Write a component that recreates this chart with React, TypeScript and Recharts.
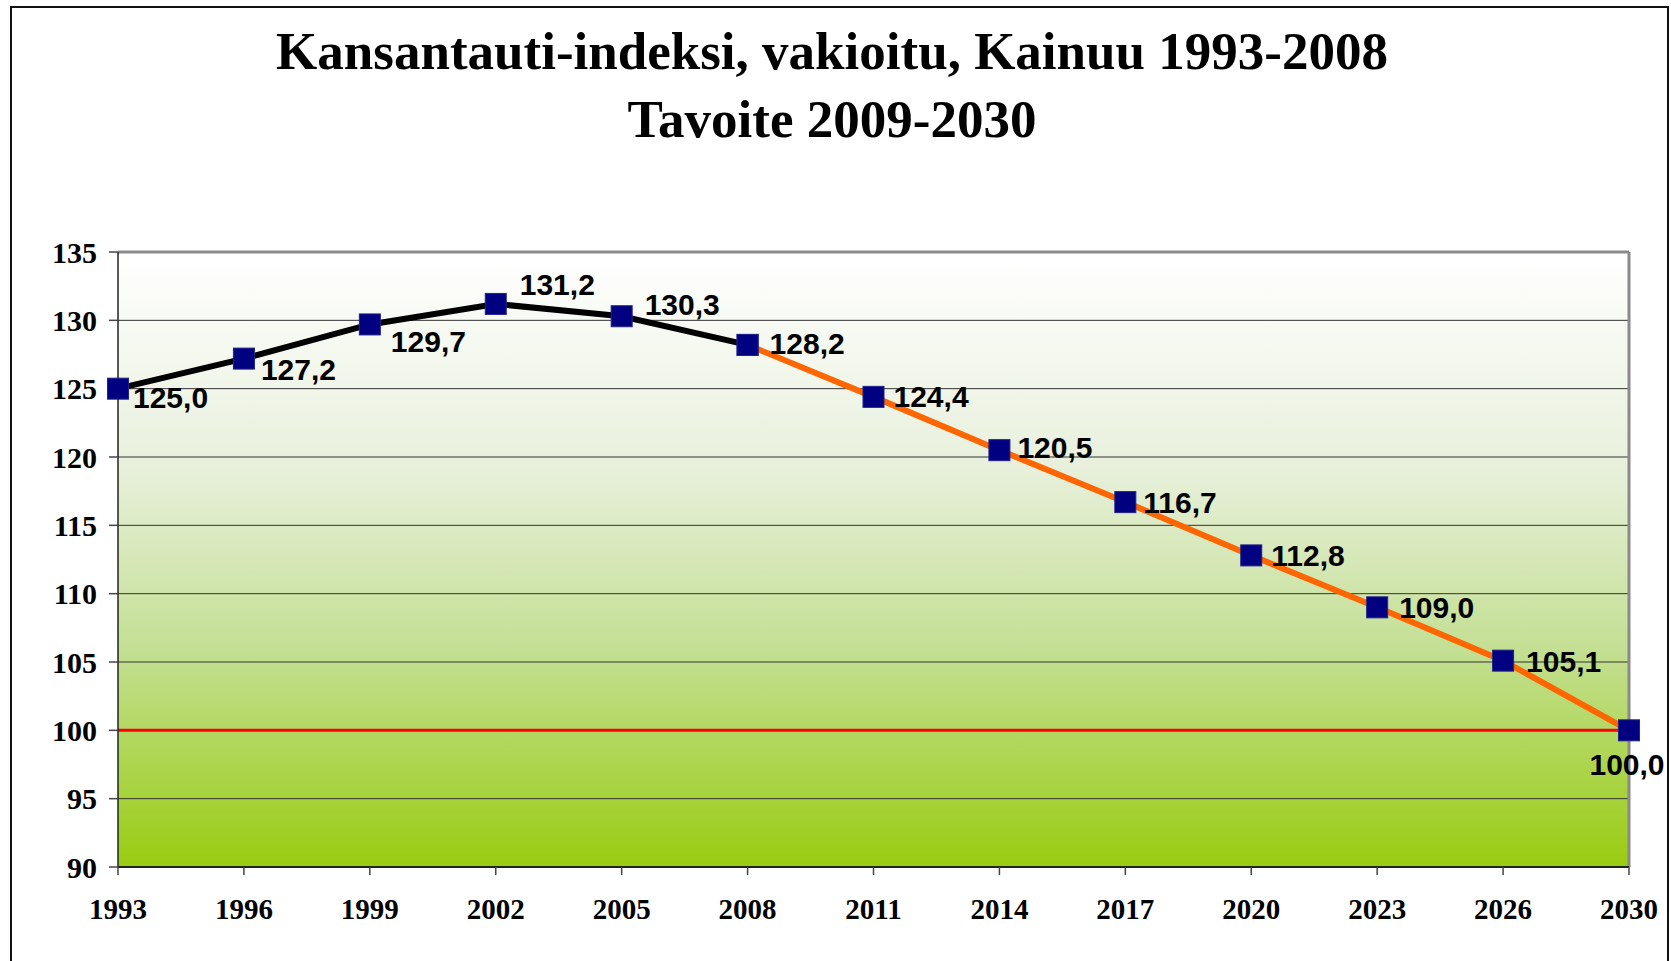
import React from 'react';
import {
  LineChart,
  Line,
  XAxis,
  YAxis,
  CartesianGrid,
  ReferenceLine,
  LabelList,
} from 'recharts';

// tilastoitu jakso ja tavoite
const years = ['1993', '1996', '1999', '2002', '2005', '2008', '2011', '2014', '2017', '2020', '2023', '2026', '2030'];
const measured = [125.0, 127.2, 129.7, 131.2, 130.3, 128.2];
const targetValues = [128.2, 124.4, 120.5, 116.7, 112.8, 109.0, 105.1, 100.0];
const yTicks = [90, 95, 100, 105, 110, 115, 120, 125, 130, 135];

const data = years.map((year, i) => ({
  year,
  measured: i < measured.length ? measured[i] : null,
  target: i >= measured.length - 1 ? targetValues[i - measured.length + 1] : null,
}));

// label placement per point: [dx, dy, anchor]
const labelPlacement: [number, number, string][] = [
  [15, 9, 'start'],
  [17, 11, 'start'],
  [21, 17, 'start'],
  [24, -19, 'start'],
  [23, -12, 'start'],
  [22, -1, 'start'],
  [20, 0, 'start'],
  [18, -3, 'start'],
  [18, 0, 'start'],
  [20, 0, 'start'],
  [22, 0, 'start'],
  [23, 1, 'start'],
  [-2, 34, 'middle'],
];

const serif = '"Liberation Serif", "Times New Roman", serif';
const sans = '"Liberation Sans", Arial, sans-serif';

const SquareDot = (props: any) => {
  const { cx, cy, index, value } = props;
  if (cx == null || cy == null || value == null) return <g key={`e-${index}`} />;
  return (
    <rect
      key={`d-${index}`}
      x={cx - 10.5}
      y={cy - 10.5}
      width={21}
      height={21}
      fill="#000080"
      stroke="#22228a"
      strokeWidth={1}
    />
  );
};

const makeLabel = (skip: number[]) => (props: any) => {
  const { x, y, value, index } = props;
  if (value == null || skip.includes(index)) return null;
  const [dx, dy, anchor] = labelPlacement[index];
  return (
    <text
      key={`l-${index}`}
      x={x + dx}
      y={y + dy}
      textAnchor={anchor as any}
      dominantBaseline="central"
      fontFamily={sans}
      fontWeight="bold"
      fontSize={30}
      fill="#000"
    >
      {Number(value).toFixed(1).replace('.', ',')}
    </text>
  );
};

const App = () => {
  return (
    <div style={{ position: 'absolute', left: 0, top: 0, width: 1671, height: 961, overflow: 'hidden', background: '#fff' }}>
      <svg width={0} height={0} style={{ position: 'absolute' }}>
        <defs>
          <linearGradient id="plotBg" x1="0" y1="0" x2="0" y2="1">
            <stop offset="0%" stopColor="#ffffff" />
            <stop offset="35%" stopColor="#e8f0dc" />
            <stop offset="65%" stopColor="#c3df92" />
            <stop offset="100%" stopColor="#99cc11" />
          </linearGradient>
        </defs>
      </svg>

      <div
        style={{
          position: 'absolute',
          left: 10,
          top: 6,
          width: 1655,
          height: 1000,
          border: '2px solid #111',
        }}
      />

      <div
        style={{
          position: 'absolute',
          left: 0,
          top: 17,
          width: 1664,
          textAlign: 'center',
          fontFamily: serif,
          fontWeight: 'bold',
          fontSize: 53,
          lineHeight: '68px',
          color: '#000',
        }}
      >
        <div>Kansantauti-indeksi, vakioitu, Kainuu 1993-2008</div>
        <div>Tavoite 2009-2030</div>
      </div>

      <div style={{ position: 'absolute', left: 0, top: 0 }}>
        <LineChart
          width={1671}
          height={961}
          data={data}
          margin={{ top: 252, right: 42, bottom: 54, left: 58 }}
        >
          <CartesianGrid
            vertical={false}
            stroke="#333"
            strokeWidth={1}
            fill="url(#plotBg)"
            fillOpacity={1}
          />
          <XAxis
            dataKey="year"
            type="category"
            interval={0}
            height={40}
            tickSize={8}
            tickMargin={23}
            axisLine={{ stroke: '#222', strokeWidth: 2 }}
            tickLine={{ stroke: '#444', strokeWidth: 1.5 }}
            tick={{ fontFamily: serif, fontWeight: 'bold', fontSize: 29, fill: '#000' }}
          />
          <YAxis
            domain={[90, 135]}
            ticks={yTicks}
            width={60}
            tickSize={9}
            tickMargin={12}
            axisLine={{ stroke: '#222', strokeWidth: 1.5 }}
            tickLine={{ stroke: '#444', strokeWidth: 1.5 }}
            tick={{ fontFamily: serif, fontWeight: 'bold', fontSize: 30, fill: '#000' }}
          />
          <ReferenceLine y={135} stroke="#8a8a8a" strokeWidth={3} />
          <ReferenceLine x="2030" stroke="#8a8a8a" strokeWidth={3} />
          <ReferenceLine y={100} stroke="#ff0000" strokeWidth={3} />
          <Line
            dataKey="measured"
            stroke="#000"
            strokeWidth={6}
            dot={SquareDot}
            activeDot={false}
            isAnimationActive={false}
          >
            <LabelList dataKey="measured" content={makeLabel([])} />
          </Line>
          <Line
            dataKey="target"
            stroke="#ff6600"
            strokeWidth={6}
            dot={SquareDot}
            activeDot={false}
            isAnimationActive={false}
          >
            <LabelList dataKey="target" content={makeLabel([5])} />
          </Line>
        </LineChart>
      </div>
    </div>
  );
};

export default App;
